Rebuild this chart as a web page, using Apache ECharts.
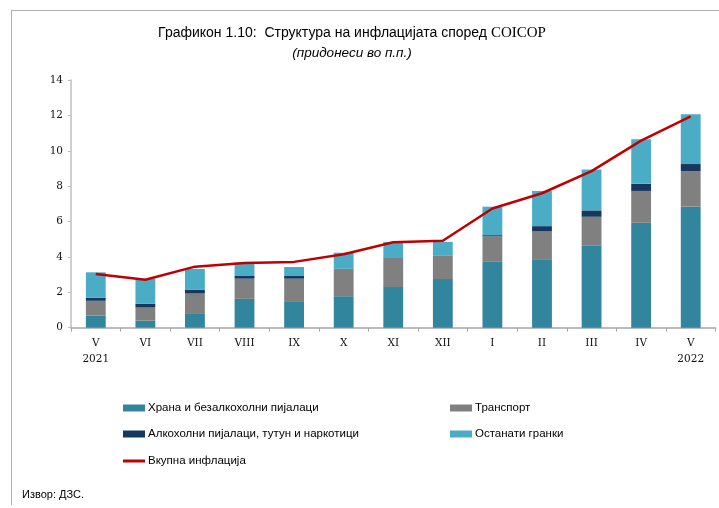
<!DOCTYPE html>
<html>
<head>
<meta charset="utf-8">
<script src="https://cdn.jsdelivr.net/npm/echarts@6/dist/echarts.min.js"></script>
<style>html,body{margin:0;padding:0;background:#fff;}#c{width:719px;height:508px;}</style>
</head>
<body>
<div id="c"></div>
<script>
var categories = ['V\n2021','VI','VII','VIII','IX','X','XI','XII','I','II','III','IV','V\n2022'];
var food      = [0.68, 0.40, 0.82, 1.63, 1.50, 1.78, 2.30, 2.75, 3.72, 3.83, 4.63, 5.93, 6.84];
var transport = [0.84, 0.74, 1.11, 1.14, 1.27, 1.52, 1.62, 1.31, 1.45, 1.61, 1.64, 1.80, 2.01];
var alcohol   = [0.18, 0.21, 0.21, 0.18, 0.18, 0.03, 0.02, 0.02, 0.06, 0.30, 0.36, 0.40, 0.40];
var other     = [1.43, 1.42, 1.18, 0.73, 0.48, 0.91, 0.91, 0.77, 1.61, 1.99, 2.31, 2.52, 2.81];
var total     = [3.03, 2.71, 3.45, 3.65, 3.72, 4.15, 4.83, 4.91, 6.74, 7.60, 8.85, 10.57, 11.95];
var yTicks = [0, 2, 4, 6, 8, 10, 12, 14];
var names = ['Храна и безалкохолни пијалаци','Транспорт','Алкохолни пијалаци, тутун и наркотици','Останати гранки','Вкупна инфлација'];
var colors = ['#31859C','#808080','#17375E','#4BACC6','#C00000'];

var chart = echarts.init(document.getElementById('c'));
var legFont = {fontFamily:'Liberation Sans', fontSize:11.5, color:'#000', padding:[0,0,0,-2]};
function leg(name, left, top, isLine){
  return {data:[name], left:left, top:top, itemWidth:22, itemHeight:isLine?3:7, icon:'rect',
    textStyle:legFont, padding:0, selectedMode:false};
}
function barSeries(i, data){
  return {name:names[i], type:'bar', stack:'s', data:data, barWidth:'40%',
    itemStyle:{color:colors[i]}, emphasis:{disabled:true}};
}
chart.setOption({
  animation:false,
  title:[{
    text:'{a|Графикон 1.10:  Структура на инфлацијата според }{b|COICOP}',
    left:352, top:26, textAlign:'center', padding:0,
    textStyle:{fontWeight:'normal', rich:{a:{fontFamily:'Liberation Sans',fontSize:14,fontWeight:'normal',color:'#000'},
                     b:{fontFamily:'Liberation Serif',fontSize:15,fontWeight:'normal',color:'#000'}}}
  },{
    text:'(придонеси во п.п.)', left:352, top:46, textAlign:'center', padding:0,
    textStyle:{fontFamily:'Liberation Sans',fontSize:13.5,fontStyle:'italic',fontWeight:'normal',color:'#000'}
  },{
    text:'Извор: ДЗС.', left:22, top:489, padding:0,
    textStyle:{fontFamily:'Liberation Sans',fontSize:11,fontWeight:'normal',color:'#000'}
  }],
  graphic:[
    {type:'line', shape:{x1:11,y1:10.5,x2:719,y2:10.5}, style:{stroke:'#b0b0b0',lineWidth:1}},
    {type:'line', shape:{x1:11.5,y1:10,x2:11.5,y2:505}, style:{stroke:'#b0b0b0',lineWidth:1}}
  ],
  legend:[
    leg(names[0],123,402,false),
    leg(names[1],450,402,false),
    leg(names[2],123,428,false),
    leg(names[3],450,428,false),
    leg(names[4],123,455,true)
  ],
  grid:{left:71, right:3.5, top:80, bottom:180.3},
  xAxis:{type:'category', data:categories,
    axisLine:{lineStyle:{color:'#a6a6a6',width:1.5}},
    axisTick:{show:true, length:4, lineStyle:{color:'#a6a6a6'}},
    axisLabel:{fontFamily:'DejaVu Serif', fontSize:10.5, color:'#111', lineHeight:16, margin:8}},
  yAxis:{type:'value', min:0, max:14, interval:2,
    splitLine:{show:false},
    axisLine:{show:true, lineStyle:{color:'#bfbfbf',width:1.5}},
    axisTick:{show:true, length:3, lineStyle:{color:'#bfbfbf'}},
    axisLabel:{fontFamily:'DejaVu Serif', fontSize:10.5, color:'#111', margin:8,
      formatter:function(v){return yTicks.indexOf(v)>=0?String(v):'';}}},
  series:[
    barSeries(0, food),
    barSeries(1, transport),
    barSeries(2, alcohol),
    barSeries(3, other),
    {name:names[4], type:'line', data:total, symbol:'none', lineStyle:{color:colors[4],width:2.5},
      itemStyle:{color:colors[4]}, z:5, emphasis:{disabled:true}}
  ]
});
</script>
</body>
</html>
